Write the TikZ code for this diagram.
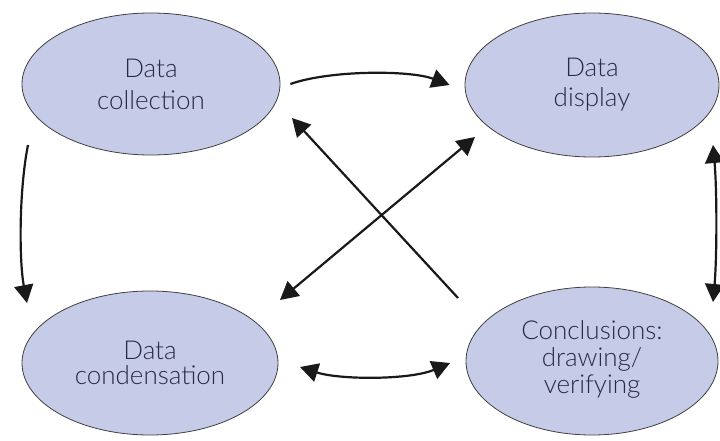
\documentclass[tikz,border=0pt]{standalone}
\usepackage{fontspec}
\setmainfont{Lato Light}
\usetikzlibrary{arrows.meta,shapes.geometric}
\definecolor{ovalfill}{RGB}{198,204,232}
\definecolor{ovaltext}{RGB}{40,42,70}
\tikzset{
  oval/.style={ellipse, draw=black!75, line width=0.8pt, fill=ovalfill, inner sep=0pt,
    text=ovaltext, align=center},
  conn/.style={line width=2.2pt, black!90},
  tipend/.style={-{Triangle[length=18pt,width=19pt]}},
  tipboth/.style={{Triangle[length=18pt,width=19pt]}-{Triangle[length=18pt,width=19pt]}}
}
\begin{document}
\begin{tikzpicture}[x=1pt,y=-1pt]
\useasboundingbox (0,0) rectangle (720,441);
\node[oval, minimum width=258pt, minimum height=142pt,
  font=\fontsize{26}{32}\selectfont] (coll) at (151,84) {Data\\collection};
\node[oval, minimum width=254pt, minimum height=144pt,
  font=\fontsize{26}{30}\selectfont] (disp) at (592,85) {Data\\display};
\node[oval, minimum width=256pt, minimum height=144pt,
  font=\fontsize{26}{25}\selectfont] (cond) at (150,363) {Data\\condensation};
\node[oval, minimum width=252pt, minimum height=148pt,
  font=\fontsize{26}{27}\selectfont] (concl) at (592,361)
  {\raisebox{5pt}{\begin{tabular}{@{}c@{}}Conclusions:\\drawing/\\verifying\end{tabular}}};

% collection -> display
\draw[conn, tipend] ([xshift=10pt]coll.east) .. controls (330,70) and (410,70) .. ([xshift=-15pt]disp.west);
% collection -> condensation
\draw[conn, tipend] ([shift={(-123,61)}]coll.center) .. controls (19,190) and (19,260) .. ([shift={(-123,-60)}]cond.center);
% conclusions -> collection
\draw[conn, tipend] ([shift={(-134,-63)}]concl.center) -- ([shift={(141,34)}]coll.center);
% condensation <-> display
\draw[conn, tipboth] ([shift={(130,-63)}]cond.center) -- ([shift={(-117,52)}]disp.center);
% condensation <-> conclusions
\draw[conn, tipboth] ([shift={(150,4)}]cond.center) .. controls (340,380) and (410,380) .. ([shift={(-142,2)}]concl.center);
% display <-> conclusions
\draw[conn, tipboth] ([shift={(121,60)}]disp.center) .. controls (717,190) and (717,257) .. ([shift={(121,-59)}]concl.center);
\end{tikzpicture}
\end{document}
